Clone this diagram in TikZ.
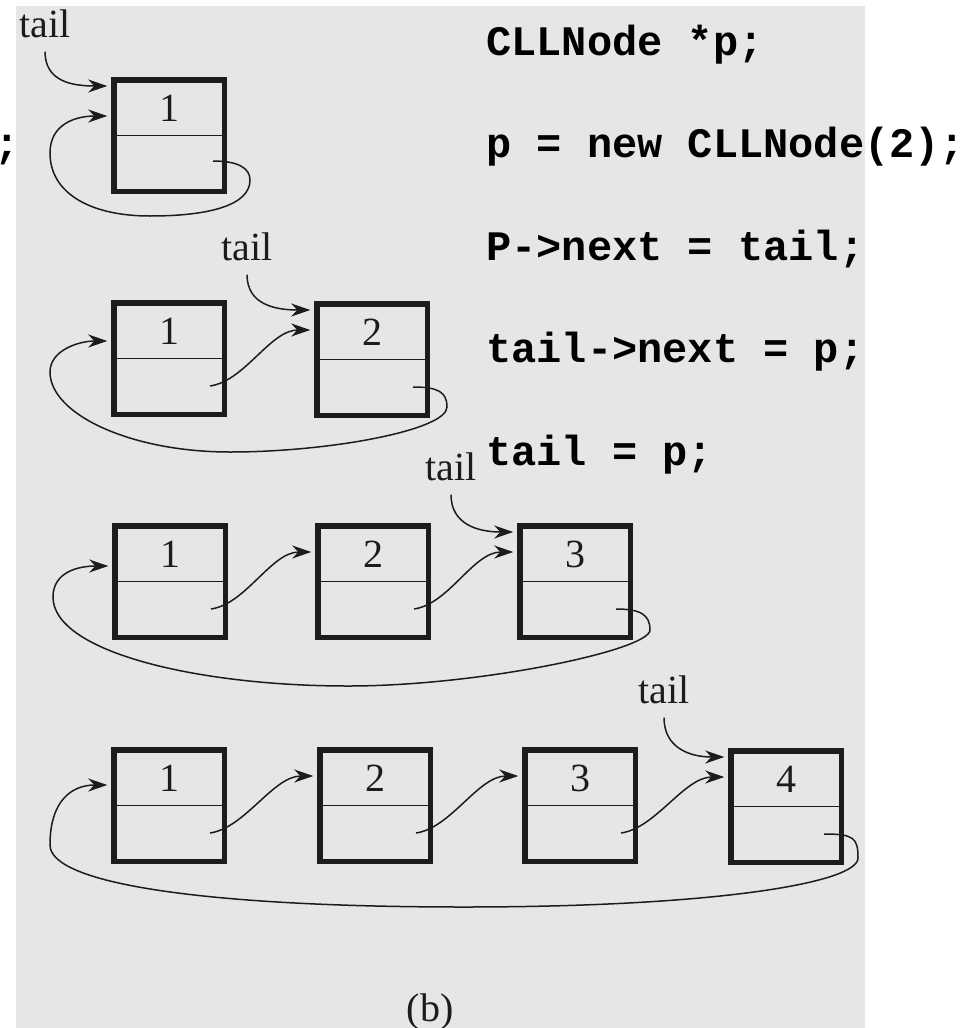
\documentclass[tikz,border=0pt]{standalone}
\usepackage{fontspec}
\setmainfont{Liberation Serif}
\newfontfamily\codefont{Liberation Mono}
\usetikzlibrary{arrows.meta,calc}
\definecolor{panel}{RGB}{230,230,230}
\definecolor{ink}{RGB}{28,28,28}
\tikzset{
  cellbox/.style={draw=ink, line width=5.5pt, minimum width=110.5pt, minimum height=111.5pt, inner sep=0pt},
  divider/.style={draw=ink, line width=1.8pt},
  digit/.style={font=\fontsize{40}{40}\selectfont, inner sep=0pt, text=ink},
  taillbl/.style={font=\fontsize{40}{40}\selectfont, inner sep=0pt, anchor=base, text=ink},
  code/.style={font=\codefont\bfseries\fontsize{42}{42}\selectfont, inner sep=0pt, anchor=base west},
  link/.style={draw=ink, line width=1.5pt, -{Stealth[length=19pt,width=13pt,inset=6pt]}},
}
% one list cell: name, left x, top y, stored value
\newcommand\llcell[4]{%
  \node[cellbox] (#1) at (#2+58,#3+58.5) {};
  \draw[divider] (#1.west) -- (#1.east);
  \node[digit] (#1-v) at ($(#1.center)+(0,-27)$) {#4};
}
% pointer from the lower half of one cell to the next cell
\newcommand\llnext[2]{%
  \draw[link] ($(#1.east)+(-17,27.5)$) .. controls +(35,-5) and +(-40,0) .. ($(#2.north west)+(-3.75,29)$);
}
% "tail" label with its arrow to a cell
\newcommand\lltail[2]{%
  \draw[link] ($(#1.south)+(0,14)$) .. controls +(0,30) and +(-35,0) .. ($(#2.north west)+(-3.75,9)$);
}
\begin{document}
\begin{tikzpicture}[x=1pt,y=-1pt]
  \useasboundingbox (0,0) rectangle (971,1028);
  \fill[white] (0,0) rectangle (971,1028);
  \fill[panel] (16,6) rectangle (865,1028);

  % code listing
  \node[code] (c1) at (486,55)  {CLLNode *p;};
  \node[code] (c2) at (486,157) {p = new CLLNode(2);};
  \node[code] (c3) at (486,260) {P->next = tail;};
  \node[code] (c4) at (486,362) {tail->next = p;};
  \node[code] (c5) at (486,465) {tail = p;};
  \node[code] (cl) at (-6,157)  {;};

  % row 1: a single node pointing to itself
  \llcell{r1a}{111}{77}{1}
  \node[taillbl] (t1) at (45,37) {tail};
  \lltail{t1}{r1a}
  \coordinate (l1R) at (250,180);
  \coordinate (l1B) at (150,216);
  \coordinate (l1L) at (50,153);
  \draw[link] ($(r1a.east)+(-14,25.5)$) .. controls +(25,0) and +(0,-12) .. (l1R)
    .. controls +(0,25) and +(60,0) .. (l1B)
    .. controls +(-60,0) and +(0,40) .. (l1L)
    .. controls +(0,-30) and +(-30,0) .. ($(r1a.north west)+(-3.75,39)$);

  % row 2
  \llcell{r2a}{111}{300}{1}
  \llcell{r2b}{314}{301}{2}
  \node[taillbl] (t2) at (247,260) {tail};
  \lltail{t2}{r2b}
  \llnext{r2a}{r2b}
  \coordinate (l2R) at (447,407);
  \coordinate (l2B) at (230,452);
  \coordinate (l2L) at (50,372);
  \draw[link] ($(r2b.east)+(-17,27.5)$) .. controls +(25,0) and +(0,-15) .. (l2R)
    .. controls +(0,23) and +(100,0) .. (l2B)
    .. controls +(-100,0) and +(0,42) .. (l2L)
    .. controls +(0,-22) and +(-28,0) .. ($(r2a.north west)+(-3.75,41)$);

  % row 3
  \llcell{r3a}{112}{523}{1}
  \llcell{r3b}{315}{523}{2}
  \llcell{r3c}{517}{523}{3}
  \node[taillbl] (t3) at (451,480) {tail};
  \lltail{t3}{r3c}
  \llnext{r3a}{r3b}
  \llnext{r3b}{r3c}
  \coordinate (l3R) at (650,630);
  \coordinate (l3B) at (348,686);
  \coordinate (l3L) at (53,597);
  \draw[link] ($(r3c.east)+(-17,27.5)$) .. controls +(25,0) and +(0,-15) .. (l3R)
    .. controls +(0,20) and +(132,0) .. (l3B)
    .. controls +(-150,0) and +(0,55) .. (l3L)
    .. controls +(0,-25) and +(-30,0) .. ($(r3a.north west)+(-3.75,43)$);

  % row 4
  \llcell{r4a}{111}{747}{1}
  \llcell{r4b}{317}{747}{2}
  \llcell{r4c}{522}{747}{3}
  \llcell{r4d}{728}{748}{4}
  \node[taillbl] (t4) at (664,703) {tail};
  \lltail{t4}{r4d}
  \llnext{r4a}{r4b}
  \llnext{r4b}{r4c}
  \llnext{r4c}{r4d}
  \coordinate (l4R) at (858,858);
  \coordinate (l4B) at (464,907);
  \coordinate (l4L) at (50,845);
  \draw[link] ($(r4d.east)+(-20,27.5)$) .. controls +(30,0) and +(0,-20) .. (l4R)
    .. controls +(0,25) and +(250,0) .. (l4B)
    .. controls +(-250,0) and +(0,40) .. (l4L)
    .. controls +(0,-45) and +(-35,0) .. ($(r4a.north west)+(-3.75,38)$);

  % caption
  \node[taillbl] (cap) at (430,1021) {(b)};
\end{tikzpicture}
\end{document}
